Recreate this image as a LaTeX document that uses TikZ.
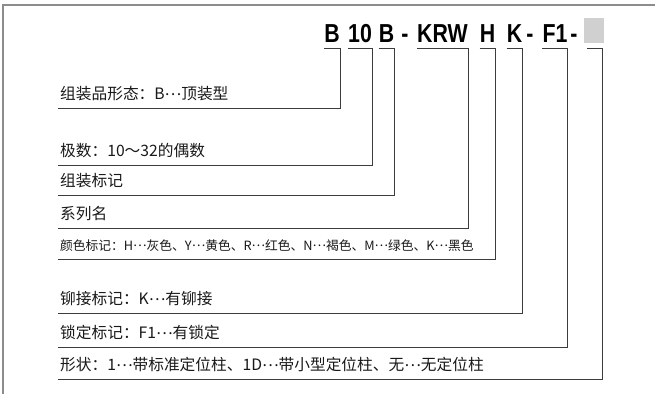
\documentclass[tikz,border=0pt]{standalone}
\usepackage{fontspec}
\setmainfont{Liberation Sans}
\newfontfamily\cjkfont{Noto Sans CJK SC}
\newfontfamily\codefont[FakeStretch=0.82]{Liberation Sans}
\usepackage{xcolor}
\definecolor{clrline}{RGB}{60,60,60}
\definecolor{clrframe}{RGB}{140,140,140}
\definecolor{clrbox}{RGB}{208,208,208}
\newcommand\midell{\raisebox{0.3em}{…}}

\begin{document}
\begin{tikzpicture}[
    x=1pt, y=1pt,
    code/.style={font=\codefont\bfseries\fontsize{26}{26}\selectfont,
                 inner sep=0pt, text depth=0pt, anchor=base},
    lbl/.style={font=\cjkfont\fontsize{15.7}{15.7}\selectfont, text=black!90,
                inner xsep=2pt, inner ysep=8pt, text depth=0pt, anchor=south west},
    small/.style={font=\cjkfont\fontsize{12.75}{12.75}\selectfont},
    lead/.style={clrline, line width=0.9pt},
  ]
    \useasboundingbox (0,0) rectangle (655,394);
    \draw[clrframe, line width=1.5pt] (655,389) -- (3,389) -- (3,0);

    % code
    \node[code, minimum width=16pt] (cB)   at (332,351)   {B};
    \node[code, minimum width=24pt] (cN)   at (360,351)   {10};
    \node[code, minimum width=13pt] (cA)   at (386.5,351) {B};
    \node[code]                     (d1)   at (405,351)   {-};
    \node[code, minimum width=51pt] (cS)   at (442.5,351) {KRW};
    \node[code, minimum width=15pt] (cH)   at (487.5,351) {H};
    \node[code, minimum width=15pt] (cK)   at (514.5,351) {K};
    \node[code]                     (d2)   at (530,351)   {-};
    \node[code, minimum width=24pt] (cF)   at (555,351)   {F1};
    \node[code]                     (d3)   at (574,351)   {-};
    \node[fill=clrbox, minimum width=20pt, minimum height=25pt, inner sep=0pt,
          anchor=south] (cX) at (594,351) {};

    % labels
    \node[lbl] (l1) at (58,286) {组装品形态：B\midell 顶装型};
    \node[lbl] (l2) at (58,229) {极数：10～32的偶数};
    \node[lbl] (l3) at (58,199) {组装标记};
    \node[lbl] (l4) at (58,166) {系列名};
    \node[lbl, small] (l5) at (58,135) {颜色标记：H\midell 灰色、Y\midell 黄色、R\midell 红色、N\midell 褐色、M\midell 绿色、K\midell 黑色};
    \node[lbl] (l6) at (58,81)  {铆接标记：K\midell 有铆接};
    \node[lbl] (l7) at (58,47)  {锁定标记：F1\midell 有锁定};
    \node[lbl] (l8) at (58,15)  {形状：1\midell 带标准定位柱、1D\midell 带小型定位柱、无\midell 无定位柱};

    % leaders
    \draw[lead] ([yshift=-5pt]cB.south west) -- ([yshift=-5pt]cB.south east) |- (l1.south west);
    \draw[lead] ([yshift=-5pt]cN.south west) -- ([yshift=-5pt]cN.south east) |- (l2.south west);
    \draw[lead] ([yshift=-5pt]cA.south west) -- ([yshift=-5pt]cA.south east) |- (l3.south west);
    \draw[lead] ([yshift=-5pt]cS.south west) -- ([yshift=-5pt]cS.south east) |- (l4.south west);
    \draw[lead] ([yshift=-5pt]cH.south west) -- ([yshift=-5pt]cH.south east) |- (l5.south west);
    \draw[lead] ([yshift=-5pt]cK.south west) -- ([yshift=-5pt]cK.south east) |- (l6.south west);
    \draw[lead] ([yshift=-5pt]cF.south west) -- ([yshift=-5pt]cF.south east) |- (l7.south west);
    \draw[lead] ([xshift=3pt,yshift=-5pt]cX.south west) -- ([xshift=-2pt,yshift=-5pt]cX.south east) |- (l8.south west);
  \end{tikzpicture}
\end{document}
